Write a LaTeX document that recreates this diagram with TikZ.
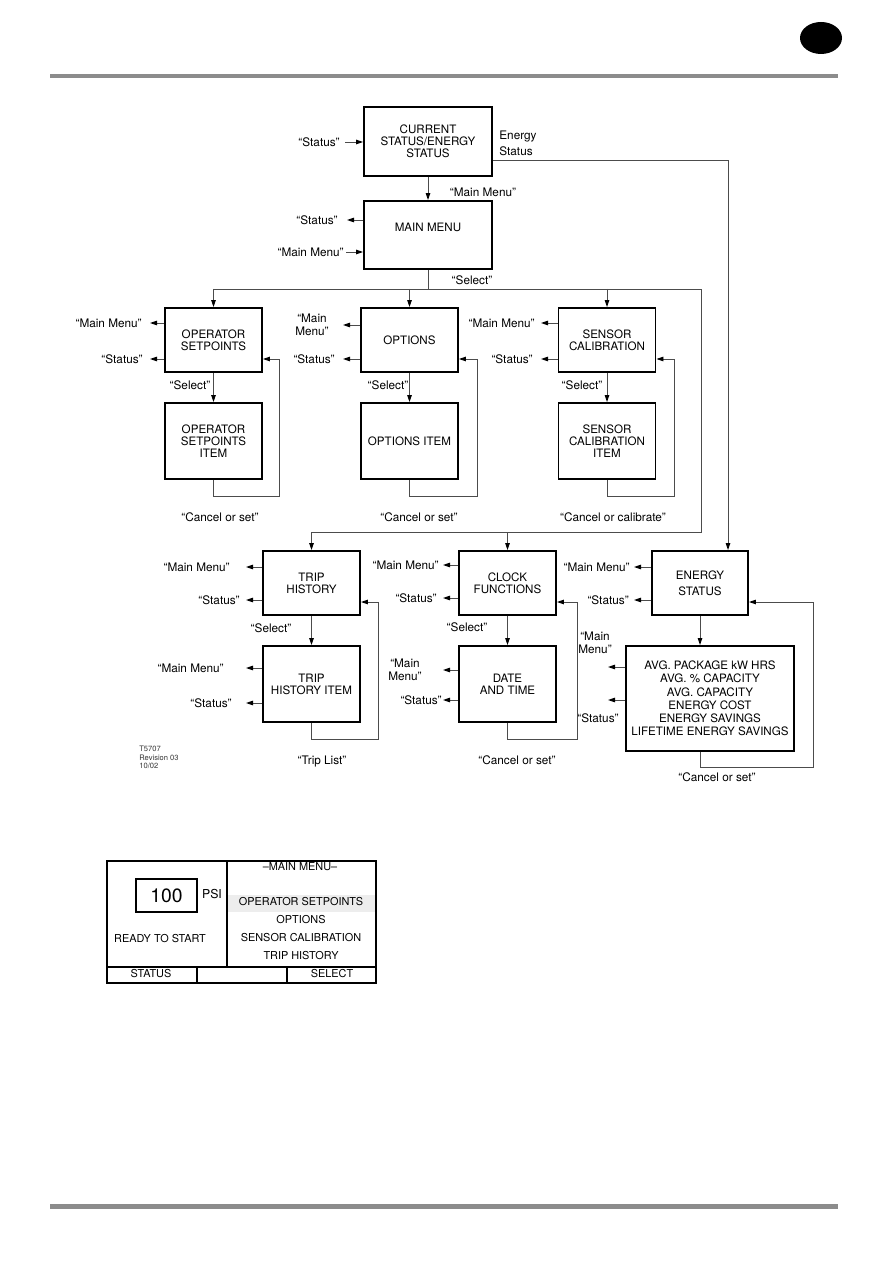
\documentclass[tikz,border=0pt]{standalone}
\usepackage{fontspec}
\setmainfont{TeX Gyre Heros}
\usetikzlibrary{arrows.meta,calc}

\tikzset{
  menubox/.style={draw,line width=1.1pt,align=center,inner sep=1pt,
    minimum width=1.94cm,minimum height=1.28cm,font=\fontsize{6.6}{6.9}\selectfont},
  itembox/.style={menubox,minimum height=1.52cm},
  lbl/.style={inner xsep={#1*0.02cm},inner ysep=0pt,align=center,
    font=\fontsize{6.7}{7.4}\selectfont},
  lbl/.default=6,
  ln/.style={draw=black!70,line width=0.55pt},
  arr/.style={ln,-{Triangle[length=4pt,width=2.6pt,color=black]}},
  lcd/.style={inner sep=0pt,font=\fontsize{6.2}{7}\selectfont},
}

\begin{document}
\begin{tikzpicture}[x=0.02cm,y=-0.02cm]
\useasboundingbox (0,0) rectangle (893,1263);

% page header and footer
\fill[black] (821,38) ellipse [x radius=21,y radius=16];
\fill[black!45] (50,74) rectangle (838,78);
\fill[black!45] (50,1204) rectangle (838,1209);

% top of the menu tree
\node[menubox,minimum width=2.56cm,minimum height=1.38cm] (cur) at (428,141.5) {CURRENT\\STATUS/ENERGY\\STATUS};
\node[menubox,minimum width=2.56cm,minimum height=1.36cm] (mainm) at (428,235) {\raisebox{0.16cm}[5pt][0pt]{MAIN MENU}};
\node[lbl=5,anchor=east] (curst) at (345,142) {“Status”};
\node[lbl=0,anchor=west,align=left,font=\fontsize{6.7}{9}\selectfont] (enlbl) at (499,143) {Energy\\Status};
\node[lbl] (curmm) at (483,192) {“Main Menu”};
\node[lbl=9,anchor=east] (mmst) at (347,220) {“Status”};
\node[lbl=2,anchor=east] (mmmm) at (346,252) {“Main Menu”};
\node[lbl] (mmsel) at (472,280) {“Select”};

\draw[arr] (curst) -- (cur.west |- curst);
\draw[arr] (cur) -- (mainm);
\draw[arr] (mainm.west |- mmst) -- (mmst);
\draw[arr] (mmmm) -- (mainm.west |- mmmm);

% second row
\node[menubox] (opset) at (213.5,340) {OPERATOR\\SETPOINTS};
\node[itembox] (opsitem) at (213.5,441) {OPERATOR\\SETPOINTS\\ITEM};
\node[menubox] (opt) at (409.5,340) {OPTIONS};
\node[itembox] (optitem) at (409.5,441) {OPTIONS ITEM};
\node[menubox] (sens) at (607,340) {SENSOR\\CALIBRATION};
\node[itembox] (sensitem) at (607,441) {SENSOR\\CALIBRATION\\ITEM};

\node[lbl=8,anchor=east] (osmm) at (150,323) {“Main Menu”};
\node[lbl=7,anchor=east] (osst) at (150,359) {“Status”};
\node[lbl] (ossel) at (190,385) {“Select”};
\node[lbl] (oscan) at (220,517) {“Cancel or set”};
\node[lbl=14,anchor=east] (opmm) at (343,325) {“Main\\Menu”};
\node[lbl=8,anchor=east] (opst) at (343,359) {“Status”};
\node[lbl] (opsel) at (388,385) {“Select”};
\node[lbl] (opcan) at (419,517) {“Cancel or set”};
\node[lbl=6,anchor=east] (ssmm) at (541,323) {“Main Menu”};
\node[lbl=8,anchor=east] (ssst) at (541,359) {“Status”};
\node[lbl] (sssel) at (582,385) {“Select”};
\node[lbl] (sscan) at (613,517) {“Cancel or calibrate”};

% third row
\node[menubox] (trip) at (311.5,583) {TRIP\\HISTORY};
\node[itembox] (tripitem) at (311.5,684) {TRIP\\HISTORY ITEM};
\node[menubox] (clock) at (507.5,583) {CLOCK\\FUNCTIONS};
\node[itembox] (datet) at (507.5,684) {DATE\\AND TIME};
\node[menubox,minimum width=1.92cm] (energy) at (700,583) {ENERGY\\[2.2pt]STATUS};
\node[menubox,minimum width=3.36cm,minimum height=2.1cm,
  font=\fontsize{6.6}{7.5}\selectfont] (ensum) at (710,698.5)
  {AVG. PACKAGE kW HRS\\AVG. \% CAPACITY\\AVG. CAPACITY\\ENERGY COST\\ENERGY SAVINGS\\LIFETIME ENERGY SAVINGS};

\node[lbl=16,anchor=east] (tmm) at (246,567) {“Main Menu”};
\node[lbl=6,anchor=east] (tst) at (246,600) {“Status”};
\node[lbl] (tsel) at (271,628) {“Select”};
\node[lbl=22,anchor=east] (timm) at (246,668) {“Main Menu”};
\node[lbl=14,anchor=east] (tist) at (246,703) {“Status”};
\node[lbl] (tlist) at (322,761) {“Trip List”};
\node[lbl=4,anchor=east] (cmm) at (443,565) {“Main Menu”};
\node[lbl=6,anchor=east] (cst) at (443,598) {“Status”};
\node[lbl] (csel) at (467,627) {“Select”};
\node[lbl=21,anchor=east] (dmm) at (443,670) {“Main\\Menu”};
\node[lbl=1,anchor=east] (dst) at (443,700) {“Status”};
\node[lbl] (dcan) at (517,760) {“Cancel or set”};
\node[lbl=4,anchor=east] (emm) at (634,567) {“Main Menu”};
\node[lbl=5,anchor=east] (est) at (634,600) {“Status”};
\node[lbl] (smm) at (595,643) {“Main\\Menu”};
\node[lbl] (sst) at (598,718) {“Status”};
\node[lbl] (scan) at (717,777) {“Cancel or set”};
\coordinate (smmtip) at (608,667);
\coordinate (ssttip) at (608,700);

\node[lbl=0,anchor=north west,align=left,text=black!80,
  font=\fontsize{4.3}{4.8}\selectfont] (tag) at (139,746) {T5707\\Revision 03\\10/02};

% menu bus and energy trunk
\coordinate (busl) at (213.5,289);
\coordinate (busr) at (701,289);
\coordinate (busb) at (701,532);
\coordinate (etrn) at (728,160);
\draw[ln] (mainm.south) -- (mainm.south |- busl);
\draw[ln] (busl) -- (busr) -- (busb) -- (trip.north |- busb);
\draw[arr] (busl) -- (opset.north);
\draw[arr] (opt.north |- busl) -- (opt.north);
\draw[arr] (sens.north |- busl) -- (sens.north);
\draw[arr] (trip.north |- busb) -- (trip.north);
\draw[arr] (clock.north |- busb) -- (clock.north);
\draw[arr] (cur.east |- etrn) -- (etrn) -- (etrn |- energy.north);

% select arrows
\draw[arr] (opset) -- (opsitem);
\draw[arr] (opt) -- (optitem);
\draw[arr] (sens) -- (sensitem);
\draw[arr] (trip) -- (tripitem);
\draw[arr] (clock) -- (datet);
\draw[arr] (energy.south) -- (energy.south |- ensum.north);

% side exits
\draw[arr] (opset.west |- osmm) -- (osmm);
\draw[arr] (opset.west |- osst) -- (osst);
\draw[arr] (opt.west |- opmm) -- (opmm);
\draw[arr] (opt.west |- opst) -- (opst);
\draw[arr] (sens.west |- ssmm) -- (ssmm);
\draw[arr] (sens.west |- ssst) -- (ssst);
\draw[arr] (trip.west |- tmm) -- (tmm);
\draw[arr] (trip.west |- tst) -- (tst);
\draw[arr] (tripitem.west |- timm) -- (timm);
\draw[arr] (tripitem.west |- tist) -- (tist);
\draw[arr] (clock.west |- cmm) -- (cmm);
\draw[arr] (clock.west |- cst) -- (cst);
\draw[arr] (datet.west |- dmm) -- (dmm);
\draw[arr] (datet.west |- dst) -- (dst);
\draw[arr] (energy.west |- emm) -- (emm);
\draw[arr] (energy.west |- est) -- (est);
\draw[arr] (ensum.west |- smmtip) -- (smmtip);
\draw[arr] (ensum.west |- ssttip) -- (ssttip);

% return loops
\draw[arr] (opsitem.south) -- ++(0,17) -| ($(opset.east)+(17,19)$) -- ($(opset.east)+(0,19)$);
\draw[arr] (optitem.south) -- ++(0,17) -| ($(opt.east)+(19,19)$) -- ($(opt.east)+(0,19)$);
\draw[arr] (sensitem.south) -- ++(0,17) -| ($(sens.east)+(18,19)$) -- ($(sens.east)+(0,19)$);
\draw[arr] (tripitem.south) -- ++(0,17) -| ($(trip.east)+(18,19)$) -- ($(trip.east)+(0,19)$);
\draw[arr] (datet.south) -- ++(0,17) -| ($(clock.east)+(21,19)$) -- ($(clock.east)+(0,19)$);
\draw[arr] (energy.south |- ensum.south) -- ++(0,16) -| ($(energy.east)+(65,19)$) -- ($(energy.east)+(0,19)$);

% display panel
\fill[black!7] (228,895) rectangle (375,912);
\draw[line width=0.6pt] (107,861) rectangle (376,983);
\draw[line width=0.6pt] (227,861) -- (227,967);
\draw[line width=0.6pt] (107,967) -- (376,967);
\draw[line width=0.6pt] (197,967) -- (197,983);
\draw[line width=0.6pt] (287,967) -- (287,983);
\node[draw,line width=0.6pt,minimum width=1.22cm,minimum height=0.66cm,inner sep=0pt,
  font=\fontsize{11}{11}\selectfont] (psibox) at (166.5,895.5) {100};
\node[lcd,font=\fontsize{7}{7}\selectfont] (psi) at (212,894) {PSI};
\node[lcd] (ready) at (160,939) {READY TO START};
\node[lcd] (mhead) at (300,867) {–MAIN MENU–};
\node[lcd] (m1) at (301,902) {OPERATOR SETPOINTS};
\node[lcd] (m2) at (301,920) {OPTIONS};
\node[lcd] (m3) at (301,938) {SENSOR CALIBRATION};
\node[lcd] (m4) at (301,956) {TRIP HISTORY};
\node[lcd] (kst) at (151,974) {STATUS};
\node[lcd] (ksel) at (332,974) {SELECT};
\end{tikzpicture}
\end{document}
